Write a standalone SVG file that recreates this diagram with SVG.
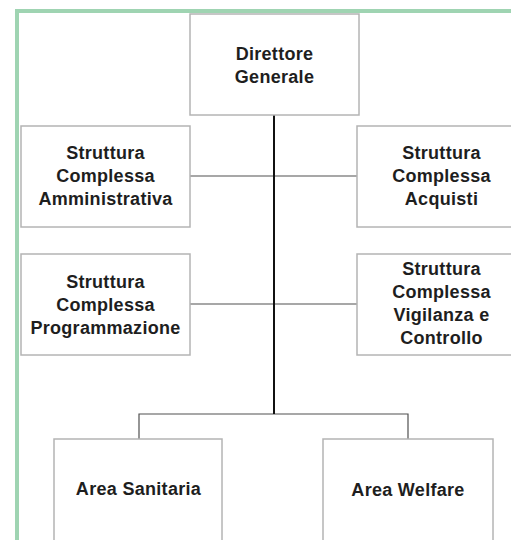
<svg xmlns="http://www.w3.org/2000/svg" width="511" height="540" viewBox="0 0 511 540">
<style>
.box{fill:#fff;stroke:#b4b4b4;stroke-width:1.5}
.t{font-family:"Liberation Sans",Arial,sans-serif;font-weight:bold;font-size:18px;fill:#1e1e1e;text-anchor:middle;letter-spacing:0.3px}
.c{stroke:#505050;stroke-width:1.2;fill:none}
.main{stroke:#111;stroke-width:2;fill:none}
.frame{stroke:#9fd4b2;stroke-width:4;fill:none}
</style>
<rect width="511" height="540" fill="#fff"/>
<path class="frame" d="M17,542 V11 H511"/>
<g id="connectors">
<line class="c" x1="190" y1="176" x2="357" y2="176"/>
<line class="c" x1="190" y1="304" x2="357" y2="304"/>
<path class="c" d="M139,439 V414 H408 V439"/>
<line class="main" x1="274" y1="115" x2="274" y2="414"/>
</g>
<g id="direttore">
<rect class="box" x="190" y="14" width="169" height="101"/>
<text class="t" x="274.5" y="60">Direttore</text>
<text class="t" x="274.5" y="83">Generale</text>
</g>
<g id="amministrativa">
<rect class="box" x="21" y="126" width="169" height="101"/>
<text class="t" x="105.5" y="159">Struttura</text>
<text class="t" x="105.5" y="182">Complessa</text>
<text class="t" x="105.5" y="205">Amministrativa</text>
</g>
<g id="acquisti">
<rect class="box" x="357" y="126" width="169" height="101"/>
<text class="t" x="441.5" y="159">Struttura</text>
<text class="t" x="441.5" y="182">Complessa</text>
<text class="t" x="441.5" y="205">Acquisti</text>
</g>
<g id="programmazione">
<rect class="box" x="21" y="254" width="169" height="101"/>
<text class="t" x="105.5" y="288">Struttura</text>
<text class="t" x="105.5" y="311">Complessa</text>
<text class="t" x="105.5" y="334">Programmazione</text>
</g>
<g id="vigilanza">
<rect class="box" x="357" y="254" width="169" height="101"/>
<text class="t" x="441.5" y="275">Struttura</text>
<text class="t" x="441.5" y="298">Complessa</text>
<text class="t" x="441.5" y="321">Vigilanza e</text>
<text class="t" x="441.5" y="344">Controllo</text>
</g>
<g id="sanitaria">
<rect class="box" x="54" y="439" width="168" height="110"/>
<text class="t" x="138.5" y="495">Area Sanitaria</text>
</g>
<g id="welfare">
<rect class="box" x="323" y="439" width="170" height="110"/>
<text class="t" x="408" y="496">Area Welfare</text>
</g>
</svg>
